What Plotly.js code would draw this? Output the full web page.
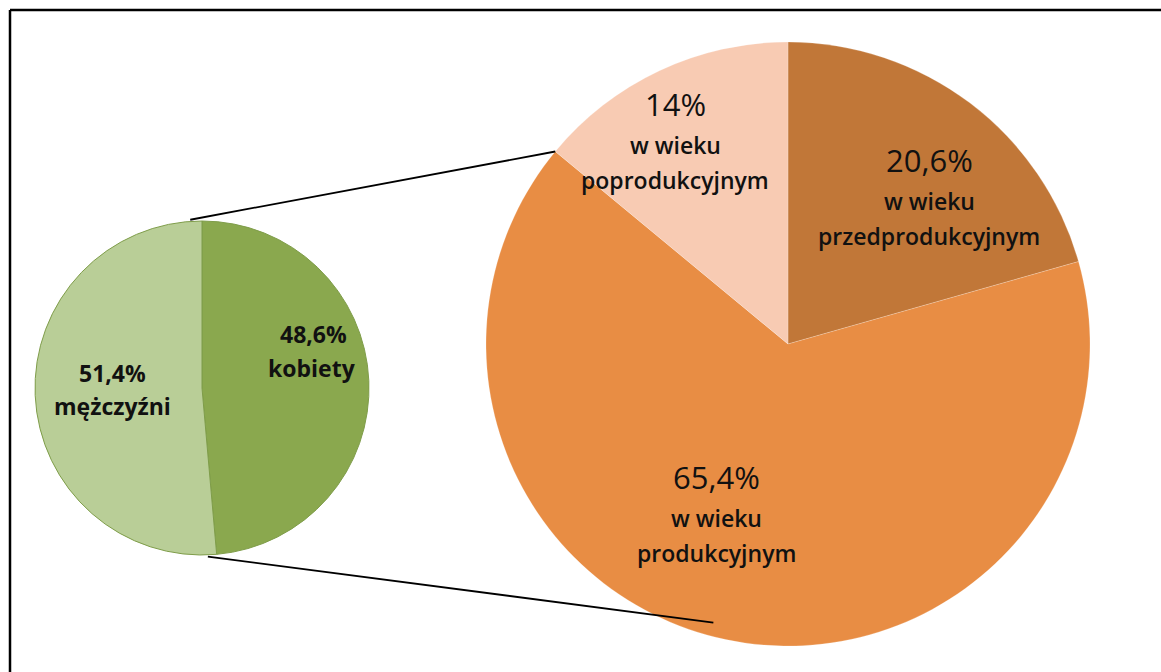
<!DOCTYPE html>
<html>
<head>
<meta charset="utf-8">
<script src="https://cdn.plot.ly/plotly-3.0.1.min.js"></script>
<style>
html,body{margin:0;padding:0;background:#fff;}
#chart{width:1161px;height:672px;}
</style>
</head>
<body>
<div id="chart"></div>
<script>
// ---- data ----
var genderLabels = ["kobiety", "mężczyźni"];
var genderValues = [48.6, 51.4];
var genderColors = ["#8AA84E", "#B9CE97"];

var ageLabels = ["w wieku<br>przedprodukcyjnym", "w wieku<br>produkcyjnym", "w wieku<br>poprodukcyjnym"];
var ageLine2 = ["przedprodukcyjnym", "produkcyjnym", "poprodukcyjnym"];
var ageValues = [20.6, 65.4, 14];
var ageColors = ["#C17738", "#E88D44", "#F8CBB3"];

// ---- geometry (pixels) ----
var W = 1161, H = 672;
var small = {cx: 202, cy: 388, r: 167};
var big = {cx: 788, cy: 344, r: 302};

function px(x){ return x / W; }
function py(y){ return 1 - y / H; }
function fmt(v){ return String(v).replace('.', ','); }
function onCircle(c, deg, f){
  var a = deg * Math.PI / 180;
  return [c.cx + c.r * f * Math.sin(a), c.cy - c.r * f * Math.cos(a)];
}

var traces = [
  {
    type: 'pie', values: genderValues, labels: genderLabels, sort: false,
    direction: 'clockwise', rotation: 0, textinfo: 'none', hoverinfo: 'none',
    marker: {colors: genderColors, line: {color: '#7F9D4A', width: 1}},
    domain: {x: [px(small.cx - small.r), px(small.cx + small.r)],
             y: [py(small.cy + small.r), py(small.cy - small.r)]},
    showlegend: false
  },
  {
    type: 'pie', values: ageValues, labels: ageLabels, sort: false,
    direction: 'clockwise', rotation: 0, textinfo: 'none', hoverinfo: 'none',
    marker: {colors: ageColors, line: {color: 'rgba(255,255,255,0.35)', width: 0.6}},
    domain: {x: [px(big.cx - big.r), px(big.cx + big.r)],
             y: [py(big.cy + big.r), py(big.cy - big.r)]},
    showlegend: false
  }
];

// connector lines: from the small pie's top/bottom to the big pie
var cumPopro = (ageValues[0] + ageValues[1]) / 100 * 360;
var t0 = onCircle(small, -4, 1.01), t1 = onCircle(big, cumPopro, 1.0);
var b0 = onCircle(small, 178, 1.01), b1 = onCircle(big, 195, 0.955);

var shapes = [
  {type: 'line', xref: 'paper', yref: 'paper', x0: px(t0[0]), y0: py(t0[1]), x1: px(t1[0]), y1: py(t1[1]), line: {color: '#000', width: 1.8}},
  {type: 'line', xref: 'paper', yref: 'paper', x0: px(b0[0]), y0: py(b0[1]), x1: px(b1[0]), y1: py(b1[1]), line: {color: '#000', width: 1.8}},
  // outer frame (left and top edges visible)
  {type: 'line', xref: 'paper', yref: 'paper', x0: px(10), y0: py(10), x1: px(10), y1: py(H + 5), line: {color: '#000', width: 2.5}},
  {type: 'line', xref: 'paper', yref: 'paper', x0: px(10), y0: py(10), x1: px(W + 5), y1: py(10), line: {color: '#000', width: 2.5}}
];

var FONT = 'Open Sans, Lato, sans-serif';
var annotations = [];
function addText(txt, x, y, size, weight){
  annotations.push({xref: 'paper', yref: 'paper', x: px(x), y: py(y), xanchor: 'center', yanchor: 'middle',
    showarrow: false, text: txt, font: {family: FONT, size: size, color: '#111', weight: weight}});
}
// green pie labels
addText(fmt(genderValues[0]) + '%', 313, 334, 23, 700);
addText(genderLabels[0], 312, 368, 23, 700);
addText(fmt(genderValues[1]) + '%', 112, 373, 23, 700);
addText(genderLabels[1], 112, 406, 23, 700);

// orange pie labels: [percent center x, percent baseline y]
var agePos = [[929, 172], [716, 489], [675, 116]];
for (var i = 0; i < ageValues.length; i++){
  var p = agePos[i];
  addText(fmt(ageValues[i]) + '%', p[0], p[1] - 12, 31, 400);
  addText('w wieku', p[0], p[1] + 29, 23, 600);
  addText(ageLine2[i], p[0], p[1] + 64, 23, 600);
}

var layout = {
  width: W, height: H,
  margin: {l: 0, r: 0, t: 0, b: 0},
  paper_bgcolor: '#fff', plot_bgcolor: '#fff',
  shapes: shapes, annotations: annotations, showlegend: false
};

Plotly.newPlot('chart', traces, layout, {displayModeBar: false, staticPlot: true});
</script>
</body>
</html>
